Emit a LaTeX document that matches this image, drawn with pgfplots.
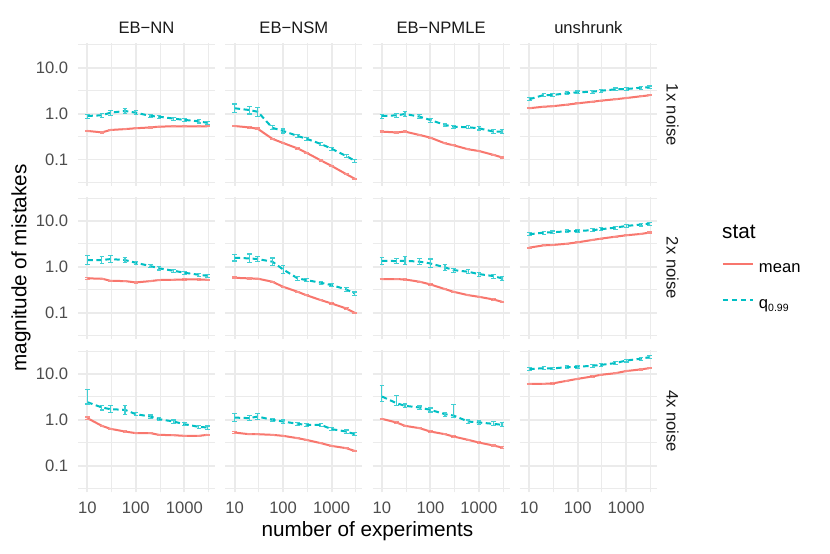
\documentclass[border=0pt]{standalone}
\usepackage{pgfplots}
\pgfplotsset{compat=1.18}
\usepackage{pgfplotstable}
\usepackage{fontspec}
\setmainfont{Liberation Sans}
\definecolor{cmean}{HTML}{F8766D}
\definecolor{cq}{HTML}{00BFC4}
\definecolor{cmeanL}{HTML}{F98F88}
\definecolor{cqL}{HTML}{40CFD3}
\definecolor{gridc}{HTML}{EBEBEB}
\definecolor{tickc}{HTML}{4D4D4D}
\definecolor{stripc}{HTML}{1A1A1A}

% columns: x, mean, rel. error of mean, q0.99, rel. error plus, rel. error minus
\pgfplotstableread{
x m me q qp qm
10 0.42 0.03 0.89 0.10 0.10
20 0.39 0.03 0.92 0.10 0.10
30 0.44 0.03 1.05 0.12 0.12
60 0.46 0.03 1.14 0.12 0.12
100 0.48 0.03 1.05 0.10 0.10
200 0.50 0.03 0.89 0.08 0.08
300 0.52 0.03 0.86 0.08 0.08
600 0.53 0.03 0.78 0.08 0.08
1000 0.53 0.03 0.73 0.08 0.08
2000 0.53 0.03 0.68 0.08 0.08
3000 0.53 0.03 0.63 0.08 0.08
}\tAA
\pgfplotstableread{
x m me q qp qm
10 0.537 0.04 1.31 0.24 0.20
20 0.501 0.04 1.20 0.22 0.18
30 0.468 0.04 1.10 0.25 0.20
60 0.282 0.03 0.49 0.10 0.10
100 0.229 0.03 0.42 0.10 0.10
200 0.174 0.03 0.325 0.08 0.08
300 0.141 0.03 0.285 0.08 0.08
600 0.0955 0.03 0.218 0.08 0.08
1000 0.0724 0.03 0.172 0.08 0.08
2000 0.0479 0.03 0.119 0.08 0.08
3000 0.038 0.03 0.094 0.08 0.08
}\tAB
\pgfplotstableread{
x m me q qp qm
10 0.405 0.03 0.889 0.10 0.10
20 0.389 0.03 0.918 0.10 0.10
30 0.405 0.03 0.982 0.15 0.13
60 0.342 0.03 0.859 0.10 0.10
100 0.299 0.03 0.728 0.10 0.10
200 0.225 0.03 0.565 0.08 0.08
300 0.204 0.03 0.520 0.08 0.08
600 0.167 0.03 0.504 0.08 0.08
1000 0.153 0.03 0.479 0.08 0.08
2000 0.126 0.03 0.405 0.10 0.10
3000 0.111 0.03 0.405 0.10 0.10
}\tAC
\pgfplotstableread{
x m me q qp qm
10 1.31 0.03 2.06 0.08 0.08
20 1.42 0.03 2.55 0.08 0.08
30 1.45 0.03 2.55 0.08 0.08
60 1.57 0.03 2.78 0.07 0.07
100 1.68 0.03 2.92 0.07 0.07
200 1.82 0.03 3.01 0.07 0.07
300 1.92 0.03 3.16 0.07 0.07
600 2.06 0.03 3.39 0.07 0.07
1000 2.19 0.03 3.44 0.07 0.07
2000 2.39 0.03 3.68 0.07 0.07
3000 2.51 0.03 3.75 0.07 0.07
}\tAD
\pgfplotstableread{
x m me q qp qm
10 0.557 0.04 1.40 0.28 0.20
20 0.550 0.03 1.40 0.17 0.15
30 0.494 0.03 1.47 0.20 0.17
60 0.486 0.03 1.40 0.12 0.12
100 0.455 0.03 1.22 0.08 0.08
200 0.486 0.03 1.035 0.08 0.08
300 0.513 0.03 0.923 0.08 0.08
600 0.520 0.03 0.818 0.08 0.08
1000 0.528 0.03 0.741 0.08 0.08
2000 0.528 0.03 0.668 0.08 0.08
3000 0.520 0.03 0.635 0.08 0.08
}\tBA
\pgfplotstableread{
x m me q qp qm
10 0.575 0.04 1.57 0.17 0.15
20 0.557 0.03 1.52 0.25 0.20
30 0.550 0.03 1.47 0.15 0.13
60 0.471 0.03 1.29 0.20 0.17
100 0.366 0.03 0.875 0.20 0.17
200 0.284 0.03 0.557 0.08 0.08
300 0.240 0.03 0.513 0.08 0.08
600 0.187 0.03 0.447 0.08 0.08
1000 0.158 0.03 0.398 0.08 0.08
2000 0.123 0.03 0.320 0.08 0.08
3000 0.0986 0.03 0.261 0.08 0.08
}\tBB
\pgfplotstableread{
x m me q qp qm
10 0.538 0.03 1.35 0.20 0.17
20 0.538 0.03 1.33 0.12 0.12
30 0.528 0.03 1.35 0.22 0.18
60 0.471 0.03 1.29 0.15 0.13
100 0.411 0.03 1.18 0.25 0.20
200 0.325 0.03 0.966 0.15 0.13
300 0.284 0.03 0.845 0.10 0.10
600 0.240 0.03 0.778 0.10 0.10
1000 0.221 0.03 0.692 0.10 0.10
2000 0.193 0.03 0.625 0.10 0.10
3000 0.172 0.03 0.557 0.10 0.10
}\tBC
\pgfplotstableread{
x m me q qp qm
10 2.61 0.03 5.11 0.07 0.07
20 2.93 0.03 5.55 0.07 0.07
30 2.98 0.03 5.64 0.07 0.07
60 3.18 0.03 5.94 0.07 0.07
100 3.41 0.03 6.03 0.07 0.07
200 3.84 0.03 6.27 0.07 0.07
300 4.10 0.03 6.58 0.07 0.07
600 4.53 0.03 7.13 0.07 0.07
1000 4.85 0.03 7.76 0.07 0.07
2000 5.20 0.03 8.32 0.07 0.07
3000 5.55 0.03 8.71 0.07 0.07
}\tBD
\pgfplotstableread{
x m me q qp qm
10 1.09 0.06 2.43 0.86 0.09
20 0.740 0.04 1.86 0.12 0.12
30 0.637 0.03 1.71 0.20 0.17
60 0.556 0.03 1.65 0.25 0.20
100 0.513 0.03 1.33 0.08 0.08
200 0.513 0.03 1.18 0.08 0.08
300 0.471 0.03 1.035 0.08 0.08
600 0.462 0.03 0.920 0.08 0.08
1000 0.448 0.03 0.805 0.08 0.08
2000 0.448 0.03 0.703 0.08 0.08
3000 0.471 0.03 0.681 0.08 0.08
}\tCA
\pgfplotstableread{
x m me q qp qm
10 0.528 0.05 1.12 0.22 0.18
20 0.486 0.03 1.09 0.15 0.13
30 0.486 0.03 1.18 0.18 0.15
60 0.471 0.03 1.00 0.08 0.08
100 0.448 0.03 0.920 0.08 0.08
200 0.398 0.03 0.818 0.08 0.08
300 0.366 0.03 0.778 0.08 0.08
600 0.310 0.03 0.778 0.08 0.08
1000 0.270 0.03 0.627 0.08 0.08
2000 0.241 0.03 0.556 0.08 0.08
3000 0.210 0.03 0.486 0.08 0.08
}\tCB
\pgfplotstableread{
x m me q qp qm
10 1.05 0.04 3.23 0.74 0.22
20 0.875 0.03 2.31 0.47 0.11
30 0.740 0.03 2.02 0.10 0.10
60 0.658 0.03 1.86 0.08 0.08
100 0.556 0.03 1.65 0.10 0.10
200 0.486 0.03 1.33 0.10 0.10
300 0.433 0.03 1.24 0.77 0.10
600 0.366 0.03 0.920 0.08 0.08
1000 0.320 0.03 0.875 0.08 0.08
2000 0.275 0.03 0.818 0.10 0.10
3000 0.249 0.03 0.778 0.10 0.10
}\tCC
\pgfplotstableread{
x m me q qp qm
10 6.11 0.03 12.8 0.07 0.07
20 6.11 0.03 13.4 0.07 0.07
30 6.21 0.03 13.2 0.07 0.07
60 7.11 0.03 14.1 0.07 0.07
100 7.85 0.03 14.4 0.07 0.07
200 8.83 0.03 15.1 0.07 0.07
300 9.62 0.03 15.8 0.07 0.07
600 10.4 0.03 17.3 0.07 0.07
1000 11.6 0.03 19.7 0.07 0.07
2000 12.6 0.03 21.5 0.07 0.07
3000 13.4 0.03 23.3 0.07 0.07
}\tCD

\begin{document}
\begin{tikzpicture}
\fill[white] (0pt,0pt) rectangle (830pt,554pt);

% ================= row 1 =================
\begin{axis}[xmode=log, ymode=log, at={(78pt,368pt)}, anchor=south west,
    scale only axis, width=137pt, height=142.5pt,
    xmin=6.43, xmax=4295, ymin=0.0264, ymax=33.9,
    xtick={10,100,1000}, ytick={0.1,1,10},
    minor xtick={3.16228,31.6228,316.228,3162.28},
    minor ytick={0.0316228,0.316228,3.16228,31.6228},
    grid=both, major grid style={draw=gridc, line width=1.9pt},
    minor grid style={draw=gridc, line width=0.95pt},
    axis line style={draw=none}, major tick length=0pt, minor tick length=0pt,
    xticklabels={}, yticklabels={0.1,1.0,10.0},
    yticklabel style={font=\fontsize{16.6}{20}\selectfont, text=tickc, inner sep=0pt, anchor=east, xshift=-9.7pt}]
  \addplot[color=cmean, line width=2pt, solid, no markers,
     error bars/.cd, y dir=both, y explicit relative,
     error bar style={line width=1.1pt, solid, cmeanL},
     error mark options={rotate=90, mark size=2.3pt, line width=1.1pt, solid, cmeanL}]
     table[x=x,y=m,y error=me] {\tAA};
  \addplot[color=cq, line width=2pt, dash pattern=on 5.5pt off 3.5pt, no markers,
     error bars/.cd, y dir=both, y explicit relative,
     error bar style={line width=1.1pt, solid, cqL},
     error mark options={rotate=90, mark size=2.3pt, line width=1.1pt, solid, cqL}]
     table[x=x,y=q,y error plus=qp,y error minus=qm] {\tAA};
\end{axis}
\begin{axis}[xmode=log, ymode=log, at={(225.3pt,368pt)}, anchor=south west,
    scale only axis, width=137pt, height=142.5pt,
    xmin=6.43, xmax=4295, ymin=0.0264, ymax=33.9,
    xtick={10,100,1000}, ytick={0.1,1,10},
    minor xtick={3.16228,31.6228,316.228,3162.28},
    minor ytick={0.0316228,0.316228,3.16228,31.6228},
    grid=both, major grid style={draw=gridc, line width=1.9pt},
    minor grid style={draw=gridc, line width=0.95pt},
    axis line style={draw=none}, major tick length=0pt, minor tick length=0pt,
    xticklabels={}, yticklabels={}]
  \addplot[color=cmean, line width=2pt, solid, no markers,
     error bars/.cd, y dir=both, y explicit relative,
     error bar style={line width=1.1pt, solid, cmeanL},
     error mark options={rotate=90, mark size=2.3pt, line width=1.1pt, solid, cmeanL}]
     table[x=x,y=m,y error=me] {\tAB};
  \addplot[color=cq, line width=2pt, dash pattern=on 5.5pt off 3.5pt, no markers,
     error bars/.cd, y dir=both, y explicit relative,
     error bar style={line width=1.1pt, solid, cqL},
     error mark options={rotate=90, mark size=2.3pt, line width=1.1pt, solid, cqL}]
     table[x=x,y=q,y error plus=qp,y error minus=qm] {\tAB};
\end{axis}
\begin{axis}[xmode=log, ymode=log, at={(372.6pt,368pt)}, anchor=south west,
    scale only axis, width=137pt, height=142.5pt,
    xmin=6.43, xmax=4295, ymin=0.0264, ymax=33.9,
    xtick={10,100,1000}, ytick={0.1,1,10},
    minor xtick={3.16228,31.6228,316.228,3162.28},
    minor ytick={0.0316228,0.316228,3.16228,31.6228},
    grid=both, major grid style={draw=gridc, line width=1.9pt},
    minor grid style={draw=gridc, line width=0.95pt},
    axis line style={draw=none}, major tick length=0pt, minor tick length=0pt,
    xticklabels={}, yticklabels={}]
  \addplot[color=cmean, line width=2pt, solid, no markers,
     error bars/.cd, y dir=both, y explicit relative,
     error bar style={line width=1.1pt, solid, cmeanL},
     error mark options={rotate=90, mark size=2.3pt, line width=1.1pt, solid, cmeanL}]
     table[x=x,y=m,y error=me] {\tAC};
  \addplot[color=cq, line width=2pt, dash pattern=on 5.5pt off 3.5pt, no markers,
     error bars/.cd, y dir=both, y explicit relative,
     error bar style={line width=1.1pt, solid, cqL},
     error mark options={rotate=90, mark size=2.3pt, line width=1.1pt, solid, cqL}]
     table[x=x,y=q,y error plus=qp,y error minus=qm] {\tAC};
\end{axis}
\begin{axis}[xmode=log, ymode=log, at={(519.9pt,368pt)}, anchor=south west,
    scale only axis, width=137pt, height=142.5pt,
    xmin=6.43, xmax=4295, ymin=0.0264, ymax=33.9,
    xtick={10,100,1000}, ytick={0.1,1,10},
    minor xtick={3.16228,31.6228,316.228,3162.28},
    minor ytick={0.0316228,0.316228,3.16228,31.6228},
    grid=both, major grid style={draw=gridc, line width=1.9pt},
    minor grid style={draw=gridc, line width=0.95pt},
    axis line style={draw=none}, major tick length=0pt, minor tick length=0pt,
    xticklabels={}, yticklabels={}]
  \addplot[color=cmean, line width=2pt, solid, no markers,
     error bars/.cd, y dir=both, y explicit relative,
     error bar style={line width=1.1pt, solid, cmeanL},
     error mark options={rotate=90, mark size=2.3pt, line width=1.1pt, solid, cmeanL}]
     table[x=x,y=m,y error=me] {\tAD};
  \addplot[color=cq, line width=2pt, dash pattern=on 5.5pt off 3.5pt, no markers,
     error bars/.cd, y dir=both, y explicit relative,
     error bar style={line width=1.1pt, solid, cqL},
     error mark options={rotate=90, mark size=2.3pt, line width=1.1pt, solid, cqL}]
     table[x=x,y=q,y error plus=qp,y error minus=qm] {\tAD};
\end{axis}

% ================= row 2 =================
\begin{axis}[xmode=log, ymode=log, at={(78pt,214.9pt)}, anchor=south west,
    scale only axis, width=137pt, height=142.5pt,
    xmin=6.43, xmax=4295, ymin=0.0264, ymax=33.9,
    xtick={10,100,1000}, ytick={0.1,1,10},
    minor xtick={3.16228,31.6228,316.228,3162.28},
    minor ytick={0.0316228,0.316228,3.16228,31.6228},
    grid=both, major grid style={draw=gridc, line width=1.9pt},
    minor grid style={draw=gridc, line width=0.95pt},
    axis line style={draw=none}, major tick length=0pt, minor tick length=0pt,
    xticklabels={}, yticklabels={0.1,1.0,10.0},
    yticklabel style={font=\fontsize{16.6}{20}\selectfont, text=tickc, inner sep=0pt, anchor=east, xshift=-9.7pt}]
  \addplot[color=cmean, line width=2pt, solid, no markers,
     error bars/.cd, y dir=both, y explicit relative,
     error bar style={line width=1.1pt, solid, cmeanL},
     error mark options={rotate=90, mark size=2.3pt, line width=1.1pt, solid, cmeanL}]
     table[x=x,y=m,y error=me] {\tBA};
  \addplot[color=cq, line width=2pt, dash pattern=on 5.5pt off 3.5pt, no markers,
     error bars/.cd, y dir=both, y explicit relative,
     error bar style={line width=1.1pt, solid, cqL},
     error mark options={rotate=90, mark size=2.3pt, line width=1.1pt, solid, cqL}]
     table[x=x,y=q,y error plus=qp,y error minus=qm] {\tBA};
\end{axis}
\begin{axis}[xmode=log, ymode=log, at={(225.3pt,214.9pt)}, anchor=south west,
    scale only axis, width=137pt, height=142.5pt,
    xmin=6.43, xmax=4295, ymin=0.0264, ymax=33.9,
    xtick={10,100,1000}, ytick={0.1,1,10},
    minor xtick={3.16228,31.6228,316.228,3162.28},
    minor ytick={0.0316228,0.316228,3.16228,31.6228},
    grid=both, major grid style={draw=gridc, line width=1.9pt},
    minor grid style={draw=gridc, line width=0.95pt},
    axis line style={draw=none}, major tick length=0pt, minor tick length=0pt,
    xticklabels={}, yticklabels={}]
  \addplot[color=cmean, line width=2pt, solid, no markers,
     error bars/.cd, y dir=both, y explicit relative,
     error bar style={line width=1.1pt, solid, cmeanL},
     error mark options={rotate=90, mark size=2.3pt, line width=1.1pt, solid, cmeanL}]
     table[x=x,y=m,y error=me] {\tBB};
  \addplot[color=cq, line width=2pt, dash pattern=on 5.5pt off 3.5pt, no markers,
     error bars/.cd, y dir=both, y explicit relative,
     error bar style={line width=1.1pt, solid, cqL},
     error mark options={rotate=90, mark size=2.3pt, line width=1.1pt, solid, cqL}]
     table[x=x,y=q,y error plus=qp,y error minus=qm] {\tBB};
\end{axis}
\begin{axis}[xmode=log, ymode=log, at={(372.6pt,214.9pt)}, anchor=south west,
    scale only axis, width=137pt, height=142.5pt,
    xmin=6.43, xmax=4295, ymin=0.0264, ymax=33.9,
    xtick={10,100,1000}, ytick={0.1,1,10},
    minor xtick={3.16228,31.6228,316.228,3162.28},
    minor ytick={0.0316228,0.316228,3.16228,31.6228},
    grid=both, major grid style={draw=gridc, line width=1.9pt},
    minor grid style={draw=gridc, line width=0.95pt},
    axis line style={draw=none}, major tick length=0pt, minor tick length=0pt,
    xticklabels={}, yticklabels={}]
  \addplot[color=cmean, line width=2pt, solid, no markers,
     error bars/.cd, y dir=both, y explicit relative,
     error bar style={line width=1.1pt, solid, cmeanL},
     error mark options={rotate=90, mark size=2.3pt, line width=1.1pt, solid, cmeanL}]
     table[x=x,y=m,y error=me] {\tBC};
  \addplot[color=cq, line width=2pt, dash pattern=on 5.5pt off 3.5pt, no markers,
     error bars/.cd, y dir=both, y explicit relative,
     error bar style={line width=1.1pt, solid, cqL},
     error mark options={rotate=90, mark size=2.3pt, line width=1.1pt, solid, cqL}]
     table[x=x,y=q,y error plus=qp,y error minus=qm] {\tBC};
\end{axis}
\begin{axis}[xmode=log, ymode=log, at={(519.9pt,214.9pt)}, anchor=south west,
    scale only axis, width=137pt, height=142.5pt,
    xmin=6.43, xmax=4295, ymin=0.0264, ymax=33.9,
    xtick={10,100,1000}, ytick={0.1,1,10},
    minor xtick={3.16228,31.6228,316.228,3162.28},
    minor ytick={0.0316228,0.316228,3.16228,31.6228},
    grid=both, major grid style={draw=gridc, line width=1.9pt},
    minor grid style={draw=gridc, line width=0.95pt},
    axis line style={draw=none}, major tick length=0pt, minor tick length=0pt,
    xticklabels={}, yticklabels={},
    legend style={draw=none, fill=none, at={(axis description cs:1.475,0.368)}, anchor=west,
      inner sep=0pt, outer sep=0pt, row sep=20pt, column sep=5pt,
      font=\fontsize{16.6}{20}\selectfont,
      nodes={inner sep=0pt, text height=12pt, text depth=4pt}},
    legend cell align=left,
    legend image code/.code={\draw[#1] (0pt,4.3pt) -- (30pt,4.3pt);}]
  \addplot[color=cmean, line width=2pt, solid, no markers,
     error bars/.cd, y dir=both, y explicit relative,
     error bar style={line width=1.1pt, solid, cmeanL},
     error mark options={rotate=90, mark size=2.3pt, line width=1.1pt, solid, cmeanL}]
     table[x=x,y=m,y error=me] {\tBD};
  \addlegendentry{mean}
  \addplot[color=cq, line width=2pt, dash pattern=on 5.5pt off 3.5pt, no markers,
     error bars/.cd, y dir=both, y explicit relative,
     error bar style={line width=1.1pt, solid, cqL},
     error mark options={rotate=90, mark size=2.3pt, line width=1.1pt, solid, cqL}]
     table[x=x,y=q,y error plus=qp,y error minus=qm] {\tBD};
  \addlegendentry{q\raisebox{-3pt}{\fontsize{10.5}{12}\selectfont 0.99}}
\end{axis}

% ================= row 3 =================
\begin{axis}[xmode=log, ymode=log, at={(78pt,61.8pt)}, anchor=south west,
    scale only axis, width=137pt, height=142.5pt,
    xmin=6.43, xmax=4295, ymin=0.0264, ymax=33.9,
    xtick={10,100,1000}, ytick={0.1,1,10},
    minor xtick={3.16228,31.6228,316.228,3162.28},
    minor ytick={0.0316228,0.316228,3.16228,31.6228},
    grid=both, major grid style={draw=gridc, line width=1.9pt},
    minor grid style={draw=gridc, line width=0.95pt},
    axis line style={draw=none}, major tick length=0pt, minor tick length=0pt,
    xticklabels={10,100,1000}, yticklabels={0.1,1.0,10.0},
    xticklabel style={font=\fontsize{16.6}{20}\selectfont, text=tickc, inner sep=0pt, anchor=north, yshift=-9.5pt},
    yticklabel style={font=\fontsize{16.6}{20}\selectfont, text=tickc, inner sep=0pt, anchor=east, xshift=-9.7pt}]
  \addplot[color=cmean, line width=2pt, solid, no markers,
     error bars/.cd, y dir=both, y explicit relative,
     error bar style={line width=1.1pt, solid, cmeanL},
     error mark options={rotate=90, mark size=2.3pt, line width=1.1pt, solid, cmeanL}]
     table[x=x,y=m,y error=me] {\tCA};
  \addplot[color=cq, line width=2pt, dash pattern=on 5.5pt off 3.5pt, no markers,
     error bars/.cd, y dir=both, y explicit relative,
     error bar style={line width=1.1pt, solid, cqL},
     error mark options={rotate=90, mark size=2.3pt, line width=1.1pt, solid, cqL}]
     table[x=x,y=q,y error plus=qp,y error minus=qm] {\tCA};
\end{axis}
\begin{axis}[xmode=log, ymode=log, at={(225.3pt,61.8pt)}, anchor=south west,
    scale only axis, width=137pt, height=142.5pt,
    xmin=6.43, xmax=4295, ymin=0.0264, ymax=33.9,
    xtick={10,100,1000}, ytick={0.1,1,10},
    minor xtick={3.16228,31.6228,316.228,3162.28},
    minor ytick={0.0316228,0.316228,3.16228,31.6228},
    grid=both, major grid style={draw=gridc, line width=1.9pt},
    minor grid style={draw=gridc, line width=0.95pt},
    axis line style={draw=none}, major tick length=0pt, minor tick length=0pt,
    xticklabels={10,100,1000}, yticklabels={},
    xticklabel style={font=\fontsize{16.6}{20}\selectfont, text=tickc, inner sep=0pt, anchor=north, yshift=-9.5pt}]
  \addplot[color=cmean, line width=2pt, solid, no markers,
     error bars/.cd, y dir=both, y explicit relative,
     error bar style={line width=1.1pt, solid, cmeanL},
     error mark options={rotate=90, mark size=2.3pt, line width=1.1pt, solid, cmeanL}]
     table[x=x,y=m,y error=me] {\tCB};
  \addplot[color=cq, line width=2pt, dash pattern=on 5.5pt off 3.5pt, no markers,
     error bars/.cd, y dir=both, y explicit relative,
     error bar style={line width=1.1pt, solid, cqL},
     error mark options={rotate=90, mark size=2.3pt, line width=1.1pt, solid, cqL}]
     table[x=x,y=q,y error plus=qp,y error minus=qm] {\tCB};
\end{axis}
\begin{axis}[xmode=log, ymode=log, at={(372.6pt,61.8pt)}, anchor=south west,
    scale only axis, width=137pt, height=142.5pt,
    xmin=6.43, xmax=4295, ymin=0.0264, ymax=33.9,
    xtick={10,100,1000}, ytick={0.1,1,10},
    minor xtick={3.16228,31.6228,316.228,3162.28},
    minor ytick={0.0316228,0.316228,3.16228,31.6228},
    grid=both, major grid style={draw=gridc, line width=1.9pt},
    minor grid style={draw=gridc, line width=0.95pt},
    axis line style={draw=none}, major tick length=0pt, minor tick length=0pt,
    xticklabels={10,100,1000}, yticklabels={},
    xticklabel style={font=\fontsize{16.6}{20}\selectfont, text=tickc, inner sep=0pt, anchor=north, yshift=-9.5pt}]
  \addplot[color=cmean, line width=2pt, solid, no markers,
     error bars/.cd, y dir=both, y explicit relative,
     error bar style={line width=1.1pt, solid, cmeanL},
     error mark options={rotate=90, mark size=2.3pt, line width=1.1pt, solid, cmeanL}]
     table[x=x,y=m,y error=me] {\tCC};
  \addplot[color=cq, line width=2pt, dash pattern=on 5.5pt off 3.5pt, no markers,
     error bars/.cd, y dir=both, y explicit relative,
     error bar style={line width=1.1pt, solid, cqL},
     error mark options={rotate=90, mark size=2.3pt, line width=1.1pt, solid, cqL}]
     table[x=x,y=q,y error plus=qp,y error minus=qm] {\tCC};
\end{axis}
\begin{axis}[xmode=log, ymode=log, at={(519.9pt,61.8pt)}, anchor=south west,
    scale only axis, width=137pt, height=142.5pt,
    xmin=6.43, xmax=4295, ymin=0.0264, ymax=33.9,
    xtick={10,100,1000}, ytick={0.1,1,10},
    minor xtick={3.16228,31.6228,316.228,3162.28},
    minor ytick={0.0316228,0.316228,3.16228,31.6228},
    grid=both, major grid style={draw=gridc, line width=1.9pt},
    minor grid style={draw=gridc, line width=0.95pt},
    axis line style={draw=none}, major tick length=0pt, minor tick length=0pt,
    xticklabels={10,100,1000}, yticklabels={},
    xticklabel style={font=\fontsize{16.6}{20}\selectfont, text=tickc, inner sep=0pt, anchor=north, yshift=-9.5pt}]
  \addplot[color=cmean, line width=2pt, solid, no markers,
     error bars/.cd, y dir=both, y explicit relative,
     error bar style={line width=1.1pt, solid, cmeanL},
     error mark options={rotate=90, mark size=2.3pt, line width=1.1pt, solid, cmeanL}]
     table[x=x,y=m,y error=me] {\tCD};
  \addplot[color=cq, line width=2pt, dash pattern=on 5.5pt off 3.5pt, no markers,
     error bars/.cd, y dir=both, y explicit relative,
     error bar style={line width=1.1pt, solid, cqL},
     error mark options={rotate=90, mark size=2.3pt, line width=1.1pt, solid, cqL}]
     table[x=x,y=q,y error plus=qp,y error minus=qm] {\tCD};
\end{axis}

% strips and titles
\begin{scope}[every node/.style={font=\fontsize{16.6}{20}\selectfont, text=stripc, inner sep=0pt}]
\node[anchor=base] at (146.5pt,520pt) {EB−NN};
\node[anchor=base] at (293.8pt,520pt) {EB−NSM};
\node[anchor=base] at (441.1pt,520pt) {EB−NPMLE};
\node[anchor=base] at (588.4pt,520pt) {unshrunk};
\node[anchor=base, rotate=-90] at (666.5pt,439.25pt) {1x noise};
\node[anchor=base, rotate=-90] at (666.5pt,286.15pt) {2x noise};
\node[anchor=base, rotate=-90] at (666.5pt,133.05pt) {4x noise};
\end{scope}
\begin{scope}[every node/.style={font=\fontsize{20.7}{24}\selectfont, text=black, inner sep=0pt}]
\node[anchor=base, rotate=90] at (26.5pt,286.1pt) {magnitude of mistakes};
\node[anchor=base] at (367.5pt,17pt) {number of experiments};
\node[anchor=base west] at (722pt,315pt) {stat};
\end{scope}
\end{tikzpicture}
\end{document}
